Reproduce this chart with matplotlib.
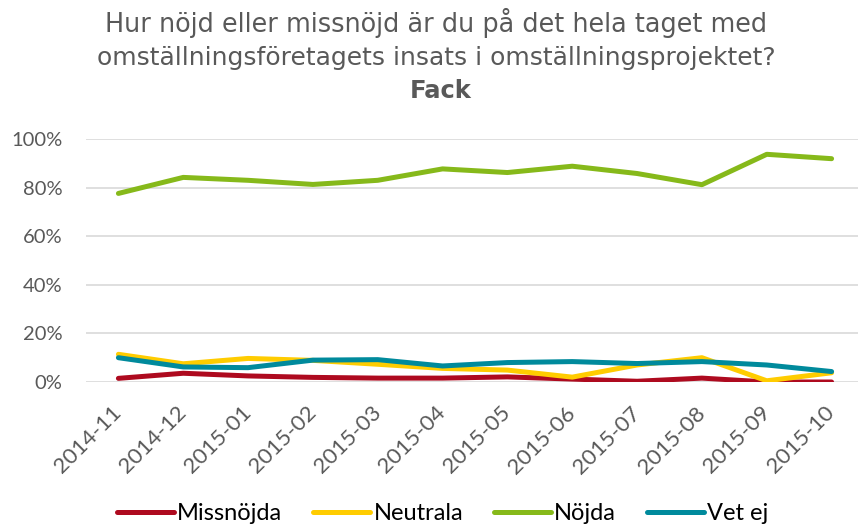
#!/usr/bin/env python3


import matplotlib.pyplot as plt
from matplotlib.ticker import PercentFormatter


months = ["2014-11", "2014-12", "2015-01", "2015-02", "2015-03", "2015-04",
          "2015-05", "2015-06", "2015-07", "2015-08", "2015-09", "2015-10"]

missnojda = [1.5, 3.6, 2.5, 1.9, 1.6, 1.6, 2.1, 1.2, 0.3, 1.6, 0.0, 0.0]
neutrala = [11.4, 7.5, 9.7, 8.9, 7.3, 5.6, 4.9, 2.0, 7.0, 10.0, 0.5, 3.8]
nojda = [77.6, 84.2, 83.0, 81.3, 83.0, 87.7, 86.2, 88.8, 85.8, 81.2, 93.7, 91.9]
vet_ej = [10.0, 6.2, 5.9, 9.0, 9.2, 6.6, 8.0, 8.4, 7.6, 8.4, 7.0, 4.3]

series = [
    ("Missnöjda", missnojda, "#AE0A1F"),
    ("Neutrala", neutrala, "#FFCC00"),
    ("Nöjda", nojda, "#86B91A"),
    ("Vet ej", vet_ej, "#008A9C"),
]

title_lines = ["Hur nöjd eller missnöjd är du på det hela taget med",
               "omställningsföretagets insats i omställningsprojektet?"]

fig = plt.figure(figsize=(8.58, 5.28), dpi=100)
ax = fig.add_axes([86 / 858, 146 / 528, 778 / 858, 243 / 528])

x = range(len(months))
for name, vals, color in series:
    ax.plot(x, vals, color=color, lw=3.6, label=name, solid_capstyle="round")

ax.set_xlim(-0.5, len(months) - 0.5)
ax.set_ylim(0, 100)
ax.set_yticks([0, 20, 40, 60, 80, 100])
ax.yaxis.set_major_formatter(PercentFormatter(decimals=0))
ax.grid(axis="y", color="#D9D9D9", lw=1.2)
ax.set_axisbelow(True)
for s in ax.spines.values():
    s.set_visible(False)

ax.set_xticks(list(x))
ax.set_xticklabels(months, rotation=45, ha="right", va="center",
                   rotation_mode="anchor")
ax.tick_params(axis="both", length=0, labelcolor="#595959", labelsize=14.5)
ax.tick_params(axis="y", pad=17)
ax.tick_params(axis="x", pad=20, labelsize=16)
for lab in ax.get_xticklabels() + ax.get_yticklabels():
    lab.set_family(["Lato", "DejaVu Sans"])

# title, one line at a time so the spacing matches
fig.text(0.508, 1 - 23 / 528, title_lines[0], ha="center", va="center",
         fontsize=18.4, color="#595959")
fig.text(0.508, 1 - 58 / 528, title_lines[1], ha="center", va="center",
         fontsize=18.0, color="#595959")
fig.text(0.514, 1 - 91 / 528, "Fack", ha="center", va="center",
         fontsize=17.5, color="#595959", fontweight="bold")

fig.legend(loc="center", bbox_to_anchor=(0.516, 14 / 528), ncol=4,
           frameon=False, handlelength=2.4, handletextpad=0.16,
           columnspacing=1.3, prop={"family": ["Lato", "DejaVu Sans"], "size": 17})

plt.savefig("out.png", dpi=100)
